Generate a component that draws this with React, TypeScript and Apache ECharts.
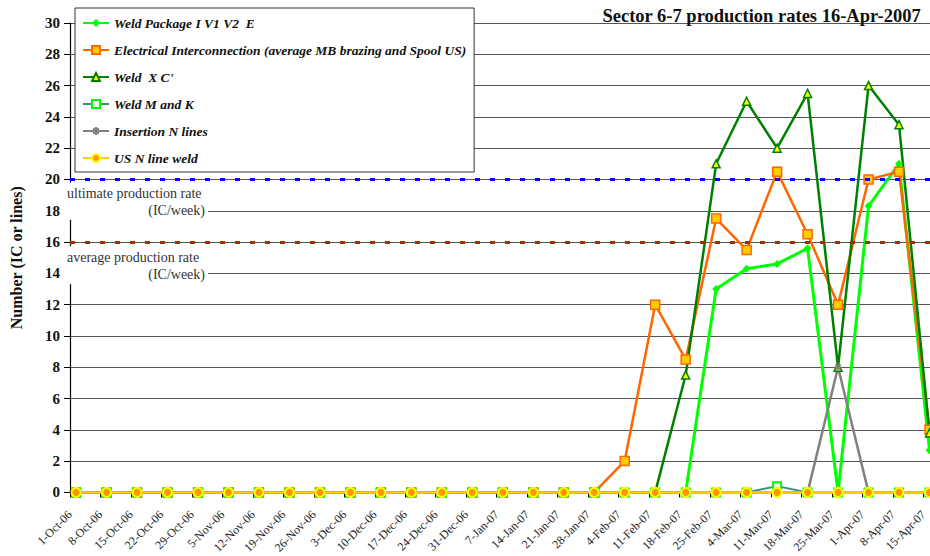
import React, { useEffect, useRef } from 'react';
import * as echarts from 'echarts';

// ---------- data ----------
const weekLabels = [
  '1-Oct-06', '8-Oct-06', '15-Oct-06', '22-Oct-06', '29-Oct-06',
  '5-Nov-06', '12-Nov-06', '19-Nov-06', '26-Nov-06',
  '3-Dec-06', '10-Dec-06', '17-Dec-06', '24-Dec-06', '31-Dec-06',
  '7-Jan-07', '14-Jan-07', '21-Jan-07', '28-Jan-07',
  '4-Feb-07', '11-Feb-07', '18-Feb-07', '25-Feb-07',
  '4-Mar-07', '11-Mar-07', '18-Mar-07', '25-Mar-07',
  '1-Apr-07', '8-Apr-07', '15-Apr-07',
];

const weldPackage = [0, 0, 0, 0, 0, 0, 0, 0, 0, 0, 0, 0, 0, 0, 0, 0, 0, 0, 0, 0, 0, 13, 14.3, 14.6, 15.6, 0, 18.3, 21, 2.7];
const electrical = [0, 0, 0, 0, 0, 0, 0, 0, 0, 0, 0, 0, 0, 0, 0, 0, 0, 0, 2, 12, 8.5, 17.5, 15.5, 20.5, 16.5, 12, 20, 20.5, 4];
const weldXC = [0, 0, 0, 0, 0, 0, 0, 0, 0, 0, 0, 0, 0, 0, 0, 0, 0, 0, 0, 0, 7.5, 21, 25, 22, 25.5, 8, 26, 23.5, 3.8];
const weldMK = [0, 0, 0, 0, 0, 0, 0, 0, 0, 0, 0, 0, 0, 0, 0, 0, 0, 0, 0, 0, 0, 0, 0, 0.4, 0, 0, 0, 0, 0];
const insertionN = [0, 0, 0, 0, 0, 0, 0, 0, 0, 0, 0, 0, 0, 0, 0, 0, 0, 0, 0, 0, 0, 0, 0, 0, 0, 8, 0, 0, 0];
const usNLineWeld = [0, 0, 0, 0, 0, 0, 0, 0, 0, 0, 0, 0, 0, 0, 0, 0, 0, 0, 0, 0, 0, 0, 0, 0, 0, 0, 0, 0, 0];

const seriesNames = [
  'Weld Package I V1 V2  E',
  'Electrical Interconnection (average MB brazing and Spool US)',
  "Weld  X C'",
  'Weld M and K',
  'Insertion N lines',
  'US N line weld',
];

const ULTIMATE_RATE = 20;
const AVERAGE_RATE = 16;
const Y_MIN = 0;
const Y_MAX = 30;
const Y_STEP = 2;

// ---------- style ----------
const SERIF = "'Liberation Serif', 'DejaVu Serif', serif";
const POINT_SHIFT = 0.2; // points sit slightly right of their week tick
const X_MAX = 29; // plot runs past the page's right edge, as in the original
const VIEW_W = 930;
const VIEW_H = 556;
const CHART_W = 956; // chart is wider than the view; the overflow is cut off

const ASTERISK = 'path://M0,5L10,5M5,0L5,10M1.5,1.5L8.5,8.5M8.5,1.5L1.5,8.5';

function toPoints(values: number[]) {
  return values.map((v, i) => [i + POINT_SHIFT, v]);
}

export default function App() {
  const ref = useRef<HTMLDivElement>(null);

  useEffect(() => {
    if (!ref.current) return;
    const chart = echarts.init(ref.current, undefined, { renderer: 'svg' });

    const mkSeries = (name: string, values: number[], lineColor: string, width: number, symbol: string, size: number, itemStyle: any) => ({
      name,
      type: 'line',
      data: toPoints(values),
      clip: false,
      symbol,
      symbolSize: size,
      showAllSymbol: true,
      lineStyle: { color: lineColor, width },
      itemStyle,
      emphasis: { disabled: true },
    });

    const series: any[] = [
      mkSeries(seriesNames[0], weldPackage, '#00ff00', 3, 'diamond', 8, { color: '#00ff00' }),
      mkSeries(seriesNames[1], electrical, '#ff6600', 2.5, 'rect', 9, { color: '#ffcc00', borderColor: '#ff6600', borderWidth: 1.5 }),
      mkSeries(seriesNames[2], weldXC, '#008000', 2.5, 'triangle', 8, { color: '#ffff00', borderColor: '#008000', borderWidth: 1.5 }),
      mkSeries(seriesNames[3], weldMK, '#339966', 2, 'emptyRect', 8, { color: '#00ff00', borderWidth: 1.5 }),
      mkSeries(seriesNames[4], insertionN, '#808080', 2.5, ASTERISK, 8, { color: 'none', borderColor: '#808080', borderWidth: 1.2 }),
      mkSeries(seriesNames[5], usNLineWeld, '#ffcc00', 2.5, 'circle', 9, { color: '#ff9900', borderColor: '#ffff00', borderWidth: 2 }),
    ];

    series[0].markLine = {
      silent: true,
      symbol: ['none', 'none'],
      label: { show: false },
      lineStyle: { type: [5, 10], width: 3 },
      data: [
        { yAxis: ULTIMATE_RATE, lineStyle: { color: '#0000ff', type: [5, 10], width: 3 } },
        { yAxis: AVERAGE_RATE, lineStyle: { color: '#993300', type: [5, 10], width: 3 } },
      ],
    };

    chart.setOption({
      animation: false,
      backgroundColor: '#ffffff',
      textStyle: { fontFamily: SERIF },
      title: {
        text: 'Sector 6-7 production rates 16-Apr-2007',
        right: CHART_W - VIEW_W + 4,
        top: 1,
        textStyle: { fontFamily: SERIF, fontWeight: 'bold', fontSize: 18.5, color: '#111' },
      },
      grid: { left: 70, right: 0, top: 23, bottom: 63, containLabel: false },
      legend: {
        orient: 'vertical',
        left: 75,
        top: 8,
        backgroundColor: '#ffffff',
        borderColor: '#333333',
        borderWidth: 1,
        padding: [7, 8, 6, 7],
        itemWidth: 26,
        itemHeight: 10,
        itemGap: 11,
        selectedMode: false,
        textStyle: { fontFamily: SERIF, fontWeight: 'bold', fontStyle: 'italic', fontSize: 13.5, color: '#111', lineHeight: 16 },
        data: seriesNames,
      },
      xAxis: {
        type: 'value',
        min: 0,
        max: X_MAX,
        interval: 1,
        axisLine: { show: true, onZero: false, lineStyle: { color: '#000', width: 1 } },
        axisTick: { show: true, length: 5, lineStyle: { color: '#000' } },
        splitLine: { show: false },
        axisLabel: {
          rotate: 45,
          margin: 20,
          verticalAlign: 'middle',
          fontFamily: SERIF,
          fontSize: 12,
          color: '#222',
          formatter: (v: number) => {
            const idx = Math.round(v);
            return Math.abs(v - idx) < 1e-6 && weekLabels[idx] ? weekLabels[idx] : '';
          },
        },
      },
      yAxis: {
        type: 'value',
        min: Y_MIN,
        max: Y_MAX,
        interval: Y_STEP,
        name: 'Number (IC or lines)',
        nameLocation: 'middle',
        nameGap: 46,
        nameTextStyle: { fontFamily: SERIF, fontWeight: 'bold', fontSize: 16, color: '#111' },
        axisLine: { show: true, lineStyle: { color: '#000', width: 1.2 } },
        axisTick: { show: true, length: 6, lineStyle: { color: '#000' } },
        axisLabel: { fontFamily: SERIF, fontWeight: 'bold', fontSize: 15, color: '#111', margin: 10 },
        splitLine: { show: true, lineStyle: { color: '#555', width: 1 } },
      },
      series,
    });

    // annotation boxes for the reference lines
    const py = (v: number) => (chart.convertToPixel({ gridIndex: 0 }, [0, v]) as number[])[1];
    const boxLeft = 63;
    const boxRight = 208;
    const textLeft = 67;
    const textRight = 205;
    const labelFont = `14px ${SERIF}`;
    const u20 = py(ULTIMATE_RATE);
    const u18 = py(ULTIMATE_RATE - Y_STEP);
    const a16 = py(AVERAGE_RATE);
    const a14 = py(AVERAGE_RATE - Y_STEP);

    chart.setOption({
      graphic: [
        { type: 'rect', z: 100, shape: { x: boxLeft, y: u20 + 3, width: boxRight - boxLeft, height: u18 - u20 + 6 }, style: { fill: '#fff' } },
        { type: 'text', z: 101, style: { text: 'ultimate production rate', x: textLeft, y: u20 + 14, font: labelFont, fill: '#333', textAlign: 'left', textVerticalAlign: 'middle' } },
        { type: 'text', z: 101, style: { text: '(IC/week)', x: textRight, y: u18, font: labelFont, fill: '#333', textAlign: 'right', textVerticalAlign: 'middle' } },
        { type: 'rect', z: 100, shape: { x: boxLeft, y: a16 + 4, width: boxRight - boxLeft, height: a14 - a16 + 7 }, style: { fill: '#fff' } },
        { type: 'text', z: 101, style: { text: 'average production rate', x: textLeft, y: a16 + 15, font: labelFont, fill: '#333', textAlign: 'left', textVerticalAlign: 'middle' } },
        { type: 'text', z: 101, style: { text: '(IC/week)', x: textRight, y: a14 + 1, font: labelFont, fill: '#333', textAlign: 'right', textVerticalAlign: 'middle' } },
      ],
    });

    return () => chart.dispose();
  }, []);

  return (
    <div style={{ position: 'fixed', left: 0, top: 0, width: VIEW_W, height: VIEW_H, overflow: 'hidden', background: '#fff' }}>
      <div ref={ref} style={{ width: CHART_W, height: VIEW_H }} />
    </div>
  );
}
